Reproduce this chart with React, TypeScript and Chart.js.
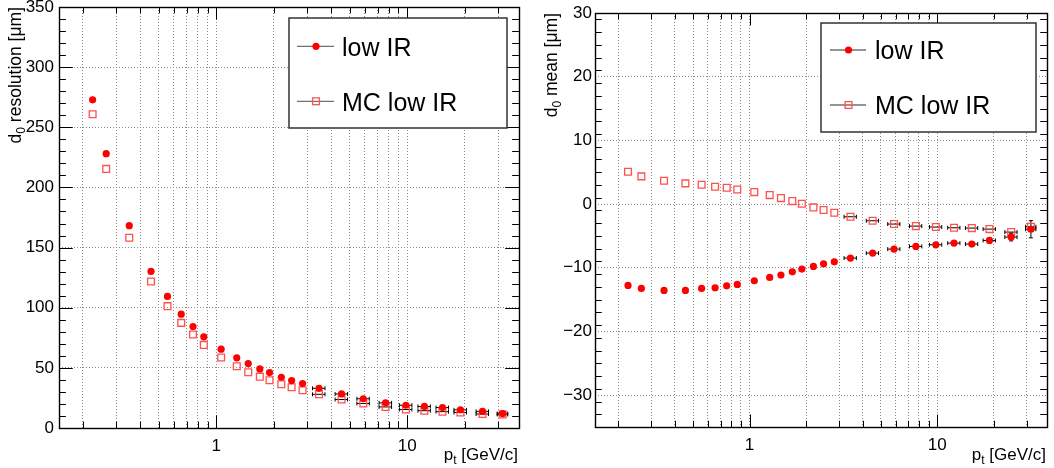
import React, { useEffect, useRef } from 'react';
import { Chart, registerables } from 'chart.js';

Chart.register(...registerables);

const FONT = '"Liberation Sans", Arial, Helvetica, sans-serif';
const RED = '#ff0000';
const PINK = '#ff5050';

// transverse momentum bin centres [GeV/c]
const PT = [0.225, 0.265, 0.35, 0.455, 0.555, 0.655, 0.755, 0.86, 1.06, 1.28, 1.47, 1.69, 1.9, 2.19, 2.48, 2.83, 3.45, 4.53, 5.89, 7.7, 9.84, 12.3, 15.3, 19.0, 24.8, 31.6];
// horizontal error (half bin width)
const PT_ERR = [0, 0, 0, 0, 0, 0, 0, 0, 0, 0, 0, 0, 0, 0, 0, 0, 0.26, 0.34, 0.44, 0.58, 0.74, 0.92, 1.15, 1.43, 1.86, 2.0];

// d0 resolution [um]
const RES_DATA = [272.8, 228.1, 168.2, 130.2, 109.4, 94.6, 84.4, 75.8, 65.5, 58.3, 53.6, 49.1, 46.1, 42.2, 39.4, 36.9, 33.0, 28.3, 24.3, 20.9, 18.9, 17.9, 17.0, 15.1, 13.8, 12.0];
const RES_MC = [260.9, 215.4, 158.2, 121.8, 101.3, 87.4, 77.7, 69.1, 58.6, 51.3, 46.3, 42.7, 39.7, 36.4, 33.9, 31.4, 28.0, 23.7, 20.4, 17.5, 15.4, 14.4, 13.6, 12.9, 11.6, 11.3];

// d0 mean [um]
const MEAN_DATA = [-12.77, -13.25, -13.56, -13.56, -13.25, -13.14, -12.83, -12.62, -12.04, -11.52, -11.15, -10.63, -10.21, -9.79, -9.37, -9.06, -8.48, -7.70, -7.07, -6.65, -6.39, -6.13, -6.28, -5.71, -5.18, -3.95];
const MEAN_DATA_ERR = [0, 0, 0, 0, 0, 0, 0, 0, 0, 0, 0, 0, 0, 0, 0, 0, 0, 0, 0, 0, 0, 0, 0, 0, 0.6, 1.35];
const MEAN_MC = [5.08, 4.35, 3.66, 3.25, 3.04, 2.72, 2.57, 2.30, 1.88, 1.41, 0.94, 0.47, 0.05, -0.52, -0.94, -1.36, -1.99, -2.62, -3.14, -3.46, -3.61, -3.72, -3.77, -3.93, -4.40, -3.56];

const X_TICKS = [0.2, 0.3, 0.4, 0.5, 0.6, 0.7, 0.8, 0.9, 1, 2, 3, 4, 5, 6, 7, 8, 9, 10, 20, 30];
const X_MAJOR = [1, 10];
const X_LABELS: Record<string, string> = { '1': '1', '10': '10' };
const RES_TICKS = [0, 50, 100, 150, 200, 250, 300, 350];
const MEAN_TICKS = [-30, -20, -10, 0, 10, 20, 30];
const SERIES_LABELS = ['low IR', 'MC low IR'];

type Part = { t: string; size: number; dy?: number };

function drawRich(ctx: CanvasRenderingContext2D, parts: Part[], x: number, y: number, align: 'left' | 'right') {
  let total = 0;
  const widths = parts.map((p) => {
    ctx.font = `${p.size}px ${FONT}`;
    const w = ctx.measureText(p.t).width;
    total += w;
    return w;
  });
  let cx = align === 'right' ? x - total : x;
  ctx.textAlign = 'left';
  ctx.textBaseline = 'alphabetic';
  parts.forEach((p, i) => {
    ctx.font = `${p.size}px ${FONT}`;
    ctx.fillText(p.t, cx, y + (p.dy || 0));
    cx += widths[i];
  });
}

interface Cfg {
  yMin: number;
  yMax: number;
  yTicks: number[];
  yMinorStep: number;
  yAxisW: number;
  padRight: number;
  padTop: number;
  xAxisH: number;
  labelPad: number;
  yTitle: Part[];
  yTitleX: number;
  yTitleTop: number;
  legend: { x1: number; y1: number; x2: number; y2: number; rows: number[]; lx1: number; lx2: number; mx: number; tx: number };
  data: number[];
  mc: number[];
  dataErr?: number[];
}

function drawCircle(ctx: CanvasRenderingContext2D, x: number, y: number) {
  ctx.beginPath();
  ctx.arc(x, y, 3.6, 0, Math.PI * 2);
  ctx.fillStyle = RED;
  ctx.fill();
}
function drawSquare(ctx: CanvasRenderingContext2D, x: number, y: number) {
  ctx.strokeStyle = PINK;
  ctx.lineWidth = 1.3;
  ctx.strokeRect(x - 3.4, y - 3.4, 6.8, 6.8);
}

function makePlugin(cfg: Cfg) {
  return {
    id: 'rootStyle',
    beforeDatasetsDraw(chart: any) {
      const ctx: CanvasRenderingContext2D = chart.ctx;
      const xs = chart.scales.x;
      const ys = chart.scales.y;
      ctx.save();
      ctx.strokeStyle = '#000';
      ctx.lineWidth = 1;
      const series = [
        { vals: cfg.mc, err: null as number[] | null },
        { vals: cfg.data, err: cfg.dataErr || null },
      ];
      series.forEach((s) => {
        PT.forEach((x, i) => {
          const py = ys.getPixelForValue(s.vals[i]);
          const e = PT_ERR[i];
          if (e > 0) {
            const a = xs.getPixelForValue(x - e);
            const b = xs.getPixelForValue(x + e);
            ctx.beginPath();
            ctx.moveTo(a, py);
            ctx.lineTo(b, py);
            ctx.moveTo(a, py - 2);
            ctx.lineTo(a, py + 2);
            ctx.moveTo(b, py - 2);
            ctx.lineTo(b, py + 2);
            ctx.stroke();
          }
          if (s.err && s.err[i] > 0) {
            const px = xs.getPixelForValue(x);
            const t = ys.getPixelForValue(s.vals[i] + s.err[i]);
            const bt = ys.getPixelForValue(s.vals[i] - s.err[i]);
            ctx.beginPath();
            ctx.moveTo(px, t);
            ctx.lineTo(px, bt);
            ctx.moveTo(px - 2, t);
            ctx.lineTo(px + 2, t);
            ctx.moveTo(px - 2, bt);
            ctx.lineTo(px + 2, bt);
            ctx.stroke();
          }
        });
      });
      ctx.restore();
    },
    afterDraw(chart: any) {
      const ctx: CanvasRenderingContext2D = chart.ctx;
      const { left, right, top, bottom } = chart.chartArea;
      const xs = chart.scales.x;
      const ys = chart.scales.y;
      const w = right - left;
      const h = bottom - top;
      ctx.save();
      ctx.strokeStyle = '#000';
      ctx.lineWidth = 1;
      // y ticks
      const yMajLen = 0.03 * w;
      const yMinLen = 0.015 * w;
      ctx.beginPath();
      for (let v = cfg.yMin; v <= cfg.yMax + 1e-9; v += cfg.yMinorStep) {
        const major = cfg.yTicks.some((t) => Math.abs(t - v) < 1e-6);
        const len = major ? yMajLen : yMinLen;
        const py = Math.round(ys.getPixelForValue(v)) + 0.5;
        ctx.moveTo(left, py);
        ctx.lineTo(left + len, py);
        ctx.moveTo(right, py);
        ctx.lineTo(right - len, py);
      }
      // x ticks
      const xMajLen = 0.03 * h;
      const xMinLen = 0.015 * h;
      X_TICKS.forEach((v) => {
        const len = X_MAJOR.includes(v) ? xMajLen : xMinLen;
        const px = Math.round(xs.getPixelForValue(v)) + 0.5;
        ctx.moveTo(px, bottom);
        ctx.lineTo(px, bottom - len);
        ctx.moveTo(px, top);
        ctx.lineTo(px, top + len);
      });
      ctx.stroke();
      // frame
      ctx.lineWidth = 1.4;
      ctx.strokeRect(Math.round(left) + 0.5, Math.round(top) + 0.5, Math.round(right) - Math.round(left), Math.round(bottom) - Math.round(top));

      // axis titles
      ctx.fillStyle = '#000';
      drawRich(ctx, [
        { t: 'p', size: 17 },
        { t: 't', size: 12, dy: 4 },
        { t: ' [GeV/c]', size: 17 },
      ], right - 1, 460, 'right');
      ctx.save();
      ctx.translate(cfg.yTitleX, cfg.yTitleTop);
      ctx.rotate(-Math.PI / 2);
      drawRich(ctx, cfg.yTitle, 0, 0, 'right');
      ctx.restore();

      // legend
      const L = cfg.legend;
      ctx.fillStyle = '#fff';
      ctx.fillRect(L.x1, L.y1, L.x2 - L.x1, L.y2 - L.y1);
      ctx.strokeStyle = '#333';
      ctx.lineWidth = 1.5;
      ctx.strokeRect(L.x1, L.y1, L.x2 - L.x1, L.y2 - L.y1);
      L.rows.forEach((ry, i) => {
        ctx.strokeStyle = '#707070';
        ctx.lineWidth = 1.3;
        ctx.beginPath();
        ctx.moveTo(L.lx1, ry);
        ctx.lineTo(L.lx2, ry);
        ctx.stroke();
        if (i === 0) drawCircle(ctx, L.mx, ry);
        else drawSquare(ctx, L.mx, ry);
        ctx.fillStyle = '#000';
        ctx.font = `25px ${FONT}`;
        ctx.textAlign = 'left';
        ctx.textBaseline = 'alphabetic';
        ctx.fillText(SERIES_LABELS[i], L.tx, ry + 9.2);
      });
      ctx.restore();
    },
  };
}

function buildConfig(cfg: Cfg): any {
  const fmt = (v: number) => (v < 0 ? '\u2212' + Math.abs(v) : String(v));
  return {
    type: 'scatter',
    data: {
      datasets: [
        {
          label: SERIES_LABELS[0],
          data: PT.map((x, i) => ({ x, y: cfg.data[i] })),
          pointStyle: 'circle',
          pointRadius: 3.6,
          backgroundColor: RED,
          borderColor: RED,
          borderWidth: 0,
        },
        {
          label: SERIES_LABELS[1],
          data: PT.map((x, i) => ({ x, y: cfg.mc[i] })),
          pointStyle: 'rect',
          pointRadius: 4.8,
          backgroundColor: 'rgba(255,255,255,0)',
          borderColor: PINK,
          borderWidth: 1.3,
        },
      ],
    },
    options: {
      animation: false,
      responsive: false,
      maintainAspectRatio: false,
      events: [],
      layout: { padding: { left: 0, top: cfg.padTop, right: cfg.padRight, bottom: 0 } },
      plugins: { legend: { display: false }, tooltip: { enabled: false } },
      scales: {
        x: {
          type: 'logarithmic',
          min: 0.15,
          max: 38.5,
          afterBuildTicks: (s: any) => {
            s.ticks = X_TICKS.map((v) => ({ value: v }));
          },
          afterFit: (s: any) => {
            s.height = cfg.xAxisH;
            s.paddingLeft = 0;
            s.paddingRight = 0;
          },
          ticks: {
            autoSkip: false,
            maxRotation: 0,
            minRotation: 0,
            padding: 8,
            color: '#000',
            font: { family: FONT, size: 17 },
            callback: (v: number) => X_LABELS[String(v)] || '',
          },
          grid: { drawTicks: false, color: '#8c8c8c', lineWidth: 1 },
          border: { display: false, dash: [1, 2] },
        },
        y: {
          type: 'linear',
          min: cfg.yMin,
          max: cfg.yMax,
          afterBuildTicks: (s: any) => {
            s.ticks = cfg.yTicks.map((v) => ({ value: v }));
          },
          afterFit: (s: any) => {
            s.width = cfg.yAxisW;
            s.paddingTop = 0;
            s.paddingBottom = 0;
          },
          ticks: {
            autoSkip: false,
            padding: cfg.labelPad,
            color: '#000',
            font: { family: FONT, size: 17 },
            callback: (v: number) => fmt(v),
          },
          grid: { drawTicks: false, color: '#8c8c8c', lineWidth: 1 },
          border: { display: false, dash: [1, 2] },
        },
      },
    },
    plugins: [makePlugin(cfg)],
  };
}

const LEFT_CFG: Cfg = {
  yMin: 0,
  yMax: 350,
  yTicks: RES_TICKS,
  yMinorStep: 10,
  yAxisW: 59,
  padRight: 8,
  padTop: 7,
  xAxisH: 40,
  labelPad: 5,
  yTitle: [
    { t: 'd', size: 17.5 },
    { t: '0', size: 12, dy: 4 },
    { t: ' resolution [\u03bcm]', size: 17.5 },
  ],
  yTitleX: 20.5,
  yTitleTop: 7,
  legend: { x1: 289, y1: 18, x2: 507, y2: 128, rows: [46.3, 101.3], lx1: 297, lx2: 334, mx: 316, tx: 342 },
  data: RES_DATA,
  mc: RES_MC,
};

const RIGHT_CFG: Cfg = {
  yMin: -35,
  yMax: 30,
  yTicks: MEAN_TICKS,
  yMinorStep: 2,
  yAxisW: 68,
  padRight: 7,
  padTop: 13,
  xAxisH: 41,
  labelPad: 3,
  yTitle: [
    { t: 'd', size: 17.5 },
    { t: '0', size: 12, dy: 4 },
    { t: ' mean [\u03bcm]', size: 17.5 },
  ],
  yTitleX: 29.5,
  yTitleTop: 13,
  legend: { x1: 294, y1: 23, x2: 509, y2: 132, rows: [50, 105], lx1: 303, lx2: 339, mx: 321.5, tx: 348 },
  data: MEAN_DATA,
  mc: MEAN_MC,
  dataErr: MEAN_DATA_ERR,
};

function Panel({ cfg, left }: { cfg: Cfg; left: number }) {
  const ref = useRef<HTMLCanvasElement | null>(null);
  useEffect(() => {
    if (!ref.current) return;
    const chart = new Chart(ref.current, buildConfig(cfg));
    return () => chart.destroy();
  }, [cfg]);
  return (
    <canvas
      ref={ref}
      width={527}
      height={468}
      style={{ position: 'absolute', left, top: 0, width: 527, height: 468 }}
    />
  );
}

export default function App() {
  return (
    <div style={{ position: 'fixed', left: 0, top: 0, width: 1054, height: 468, background: '#fff' }}>
      <Panel cfg={LEFT_CFG} left={0} />
      <Panel cfg={RIGHT_CFG} left={527} />
    </div>
  );
}
